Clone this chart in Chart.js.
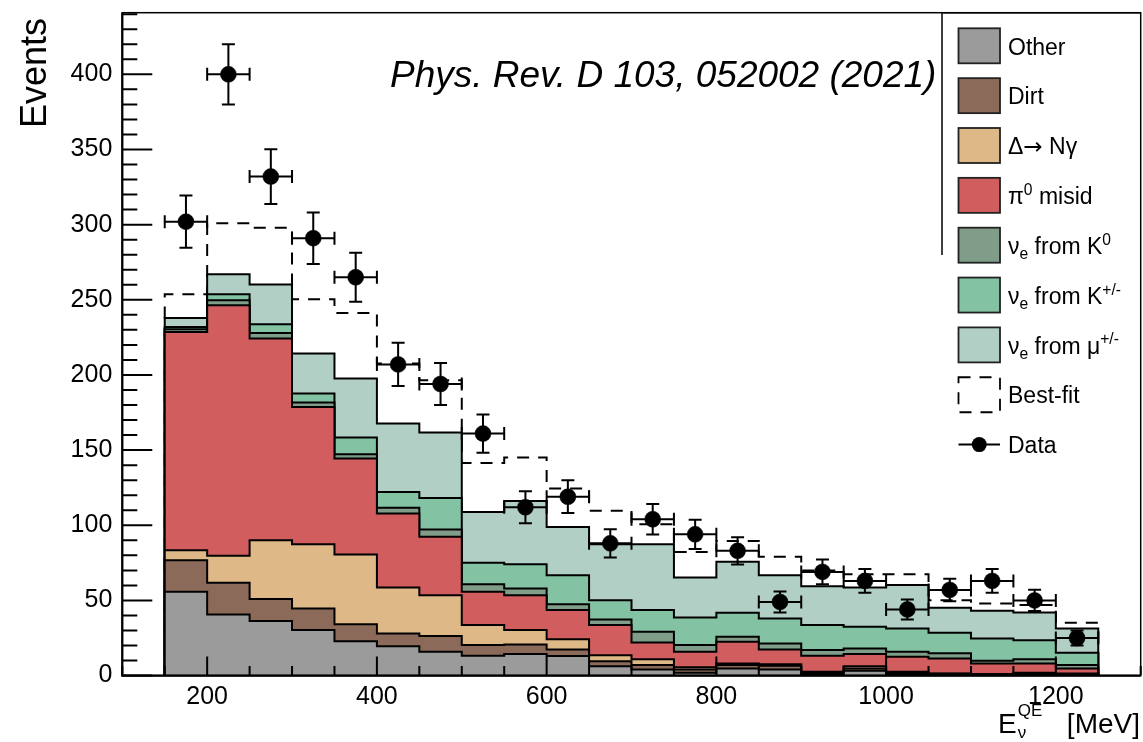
<!DOCTYPE html>
<html>
<head>
<meta charset="utf-8">
<script src="https://cdn.jsdelivr.net/npm/chart.js@4"></script>
<style>
html,body{margin:0;padding:0;background:#fff;}
#wrap{width:1143px;height:742px;position:relative;}
</style>
</head>
<body>
<div id="wrap"><canvas id="c" width="1143" height="742"></canvas></div>
<script>
// ---------- data ----------
const BIN_EDGES = [150,200,250,300,350,400,450,500,550,600,650,700,750,800,850,900,950,1000,1050,1100,1150,1200,1250];

const OTHER = [55.7,40.7,36.4,30.3,22.9,19.6,15.8,13.2,14.3,13.0,6.3,4.1,1.9,4.8,4.1,1.0,3.2,1.0,0.8,0.6,1.0,0.7];
const DIRT  = [21.1,21.0,14.5,14.4,11.3,8.4,10.5,7.1,6.4,4.4,3.3,2.9,2.2,2.2,2.4,1.0,1.6,0.9,0.4,0.3,0.6,0.4];
const DELTA = [6.6,18.0,39.2,42.7,46.4,30.6,27.2,13.3,9.6,6.7,4.0,3.8,1.4,1.1,1.1,0.5,1.5,0.6,0.2,0.1,0.3,0.3];
const PI0   = [145.2,166.6,134.1,91.3,63.8,49.2,38.8,22.1,23.2,19.5,20.0,11.3,10.3,14.4,9.8,10.7,8.0,10.0,10.0,7.1,6.2,3.4];
const NUE_K0  = [1.8,3.4,3.7,2.9,2.9,3.8,4.9,5.0,4.5,3.9,3.8,7.0,4.5,3.3,4.0,3.8,3.8,3.3,3.4,1.7,2.7,2.2];
const NUE_KPM = [1.5,4.0,5.8,6.0,11.1,10.6,21.0,14.3,16.1,19.3,12.8,14.5,18.4,16.0,16.6,16.6,14.4,15.6,13.7,14.9,12.8,8.2];
const NUE_MU  = [6.0,13.3,26.4,26.6,39.2,45.5,43.5,33.9,42.1,32.1,37.2,43.8,26.6,33.9,28.8,25.9,26.1,28.8,16.6,18.4,18.4,16.2];

const BEST_FIT = [253.7,301.0,298.0,250.3,241.2,207.6,196.5,141.5,145.1,124.5,109.6,100.7,82.3,89.6,79.0,70.0,67.5,67.5,50.2,48.0,46.9,35.1];

const DATA     = [302,400,332,291,265,207,194,161,112,119,88,104,94,83,49,69,63,44,57,63,50,25];
const DATA_ERR = [17.4,20.0,18.2,17.1,16.3,14.4,13.9,12.7,10.6,10.9,9.4,10.2,9.7,9.1,7.0,8.3,7.9,6.6,7.5,7.9,7.1,5.0];

const X_TICKS = [200,400,600,800,1000,1200];
const Y_TICKS = [0,50,100,150,200,250,300,350,400];

const X_MIN = 100, X_MAX = 1300, Y_MIN = 0, Y_MAX = 441;

const FONT = '"Liberation Sans", Arial, Helvetica, sans-serif';
const SYM_FONT = '"DejaVu Sans", sans-serif';

const COMPONENTS = [
  {label:'Other',            values: OTHER,   color:'#9b9b9b'},
  {label:'Dirt',             values: DIRT,    color:'#8b6a5a'},
  {label:'Δ→ Nγ',            values: DELTA,   color:'#dfb887'},
  {label:'π0 misid',         values: PI0,     color:'#d15d5e'},
  {label:'νe from K0',       values: NUE_K0,  color:'#7f9d89'},
  {label:'νe from K+/-',     values: NUE_KPM, color:'#83c2a3'},
  {label:'νe from μ+/-',     values: NUE_MU,  color:'#b1cfc5'}
];

// ---------- helpers ----------
function stepPoints(vals){
  const n = vals.length;
  const pts = [{x: BIN_EDGES[0], y: 0}];
  for (let i = 0; i < n; i++) pts.push({x: BIN_EDGES[i], y: vals[i]});
  pts.push({x: BIN_EDGES[n], y: vals[n-1]});
  pts.push({x: BIN_EDGES[n], y: 0});
  return pts;
}
const binCenters = DATA.map((_, i) => (BIN_EDGES[i] + BIN_EDGES[i+1]) / 2);

let running = OTHER.map(() => 0);
const stackSets = COMPONENTS.map((c, k) => {
  running = running.map((r, j) => r + c.values[j]);
  return {
    label: c.label,
    data: stepPoints(running),
    stepped: true,
    fill: 'origin',
    backgroundColor: c.color,
    borderColor: '#000',
    borderWidth: 2,
    borderJoinStyle: 'miter',
    pointRadius: 0,
    order: k + 1
  };
});

const bestFitSet = {
  label: 'Best-fit',
  data: stepPoints(BEST_FIT),
  stepped: true,
  fill: false,
  borderColor: '#000',
  borderWidth: 2,
  borderDash: [12, 9],
  pointRadius: 0,
  order: 20
};

const dataSet = {
  label: 'Data',
  data: DATA.map((v, i) => ({x: binCenters[i], y: v})),
  showLine: false,
  pointRadius: 8,
  pointBackgroundColor: '#000',
  pointBorderColor: '#000',
  pointBorderWidth: 0.5,
  order: 0
};

function drawRich(ctx, x, y, parts, size){
  let cx = x;
  for (const [t, m] of parts){
    let fs = size, dy = 0, fam = FONT;
    if (m === 'sup'){ fs = size*0.68; dy = -size*0.40; }
    else if (m === 'sub'){ fs = size*0.68; dy = size*0.24; }
    else if (m === 'sym'){ fam = SYM_FONT; }
    ctx.font = fs + 'px ' + fam;
    ctx.fillText(t, cx, y + dy);
    cx += ctx.measureText(t).width;
  }
  return cx;
}

// ---------- custom drawing plugin (ROOT-like frame, ticks, error bars, legend, texts) ----------
const rootStyle = {
  id: 'rootStyle',
  afterDatasetsDraw(chart){
    const ctx = chart.ctx;
    const xs = chart.scales.x, ys = chart.scales.y;
    const {left, right, top, bottom} = chart.chartArea;
    ctx.save();
    ctx.strokeStyle = '#000';
    ctx.fillStyle = '#000';

    // error bars
    ctx.lineWidth = 2;
    const cap = 6.5;
    DATA.forEach((v, i) => {
      const px = xs.getPixelForValue(binCenters[i]);
      const py = ys.getPixelForValue(v);
      const xl = xs.getPixelForValue(BIN_EDGES[i]);
      const xr = xs.getPixelForValue(BIN_EDGES[i+1]);
      const yt = ys.getPixelForValue(v + DATA_ERR[i]);
      const yb = ys.getPixelForValue(v - DATA_ERR[i]);
      ctx.beginPath();
      ctx.moveTo(xl, py); ctx.lineTo(xr, py);
      ctx.moveTo(xl, py - cap); ctx.lineTo(xl, py + cap);
      ctx.moveTo(xr, py - cap); ctx.lineTo(xr, py + cap);
      ctx.moveTo(px, yt); ctx.lineTo(px, yb);
      ctx.moveTo(px - cap, yt); ctx.lineTo(px + cap, yt);
      ctx.moveTo(px - cap, yb); ctx.lineTo(px + cap, yb);
      ctx.stroke();
    });

    // frame
    ctx.lineWidth = 1.5;
    ctx.strokeRect(left, top, right - left, bottom - top);
    ctx.lineWidth = 2.2;
    ctx.beginPath();
    ctx.moveTo(left, top); ctx.lineTo(left, bottom); ctx.lineTo(right, bottom);
    ctx.stroke();

    // y ticks (inside)
    ctx.lineWidth = 2;
    ctx.beginPath();
    for (let v = Y_MIN; v <= Y_MAX; v += 10){
      const y = ys.getPixelForValue(v);
      const len = (v % 50 === 0) ? 30 : 15;
      ctx.moveTo(left, y); ctx.lineTo(left + len, y);
    }
    // x ticks (inside)
    for (let v = X_MIN; v <= X_MAX; v += 50){
      const x = xs.getPixelForValue(v);
      const len = (v % 200 === 0) ? 19 : 9.5;
      ctx.moveTo(x, bottom); ctx.lineTo(x, bottom - len);
    }
    ctx.stroke();
    ctx.restore();
  },
  afterDraw(chart){
    const ctx = chart.ctx;
    const {right, top} = chart.chartArea;
    ctx.save();
    ctx.fillStyle = '#000';
    ctx.strokeStyle = '#000';
    ctx.textBaseline = 'alphabetic';

    // legend box lines
    ctx.lineWidth = 1.5;
    ctx.beginPath();
    ctx.moveTo(942, top); ctx.lineTo(right, top);
    ctx.moveTo(942, top); ctx.lineTo(942, 255);
    ctx.stroke();

    // legend entries
    const LX = 958.5, LW = 41.5, LH = 35, TX = 1008, FS = 23;
    const entries = [
      {type:'box', color: COMPONENTS[0].color, parts: [['Other','n']]},
      {type:'box', color: COMPONENTS[1].color, parts: [['Dirt','n']]},
      {type:'box', color: COMPONENTS[2].color, parts: [['Δ','n'],['→','sym'],[' Nγ','n']]},
      {type:'box', color: COMPONENTS[3].color, parts: [['π','n'],['0','sup'],[' misid','n']]},
      {type:'box', color: COMPONENTS[4].color, parts: [['ν','n'],['e','sub'],[' from K','n'],['0','sup']]},
      {type:'box', color: COMPONENTS[5].color, parts: [['ν','n'],['e','sub'],[' from K','n'],['+/-','sup']]},
      {type:'box', color: COMPONENTS[6].color, parts: [['ν','n'],['e','sub'],[' from μ','n'],['+/-','sup']]},
      {type:'dash', parts: [['Best-fit','n']]},
      {type:'data', parts: [['Data','n']]}
    ];
    entries.forEach((e, i) => {
      const cy = 45.8 + 49.85 * i;
      if (e.type === 'box'){
        ctx.fillStyle = e.color;
        ctx.fillRect(LX, cy - LH/2, LW, LH);
        ctx.lineWidth = 1.8;
        ctx.strokeStyle = '#222';
        ctx.strokeRect(LX, cy - LH/2, LW, LH);
      } else if (e.type === 'dash'){
        ctx.lineWidth = 1.8;
        ctx.strokeStyle = '#000';
        ctx.setLineDash([12, 9]);
        ctx.strokeRect(LX, cy - LH/2, LW, LH);
        ctx.setLineDash([]);
      } else {
        ctx.lineWidth = 2;
        ctx.strokeStyle = '#000';
        ctx.beginPath();
        ctx.moveTo(LX, cy); ctx.lineTo(LX + LW, cy);
        ctx.stroke();
        ctx.fillStyle = '#000';
        ctx.beginPath();
        ctx.arc(LX + LW/2, cy, 7.5, 0, Math.PI*2);
        ctx.fill();
      }
      ctx.fillStyle = '#000';
      drawRich(ctx, TX, cy + 8.7, e.parts, FS);
    });

    // publication text
    ctx.font = 'italic 37px ' + FONT;
    ctx.textAlign = 'left';
    ctx.fillText('Phys. Rev. D 103, 052002 (2021)', 390, 87);

    // y title
    ctx.save();
    ctx.translate(46, 18);
    ctx.rotate(-Math.PI/2);
    ctx.font = '36px ' + FONT;
    ctx.textAlign = 'right';
    ctx.fillText('Events', 0, 0);
    ctx.restore();

    // x title  E_nu^QE [MeV]
    ctx.textAlign = 'left';
    ctx.font = '28px ' + FONT;
    const xb = 733;
    ctx.fillText('E', 998, xb);
    const ex = 998 + ctx.measureText('E').width;
    ctx.font = '17px ' + FONT;
    ctx.fillText('QE', ex + 1, xb - 17);
    ctx.fillText('ν', ex + 1, xb + 5);
    ctx.font = '28px ' + FONT;
    ctx.textAlign = 'right';
    ctx.fillText('[MeV]', 1140, xb);

    ctx.restore();
  }
};

function noPad(s){ s.paddingTop = 0; s.paddingBottom = 0; s.paddingLeft = 0; s.paddingRight = 0; }

// ---------- chart ----------
new Chart(document.getElementById('c'), {
  type: 'line',
  data: { datasets: [...stackSets, bestFitSet, dataSet] },
  options: {
    responsive: false,
    animation: false,
    events: [],
    layout: { autoPadding: false, padding: { top: 12.7, right: 2.3, left: 0, bottom: 0 } },
    plugins: { legend: { display: false }, tooltip: { enabled: false } },
    scales: {
      x: {
        type: 'linear', min: X_MIN, max: X_MAX,
        grid: { display: false, drawTicks: false }, border: { display: false },
        afterBuildTicks: (s) => { s.ticks = X_TICKS.map(v => ({value: v})); },
        afterFit: (s) => { s.height = 66.4; noPad(s); },
        ticks: { autoSkip: false, maxRotation: 0, padding: 6.5, color: '#000',
                 font: { family: FONT, size: 25 }, callback: (v) => String(v) }
      },
      y: {
        type: 'linear', min: Y_MIN, max: Y_MAX,
        grid: { display: false, drawTicks: false }, border: { display: false },
        afterBuildTicks: (s) => { s.ticks = Y_TICKS.map(v => ({value: v})); },
        afterFit: (s) => { s.width = 122.3; noPad(s); },
        ticks: { autoSkip: false, padding: 10, color: '#000',
                 font: { family: FONT, size: 25 }, callback: (v) => String(v) }
      }
    }
  },
  plugins: [rootStyle]
});
</script>
</body>
</html>
